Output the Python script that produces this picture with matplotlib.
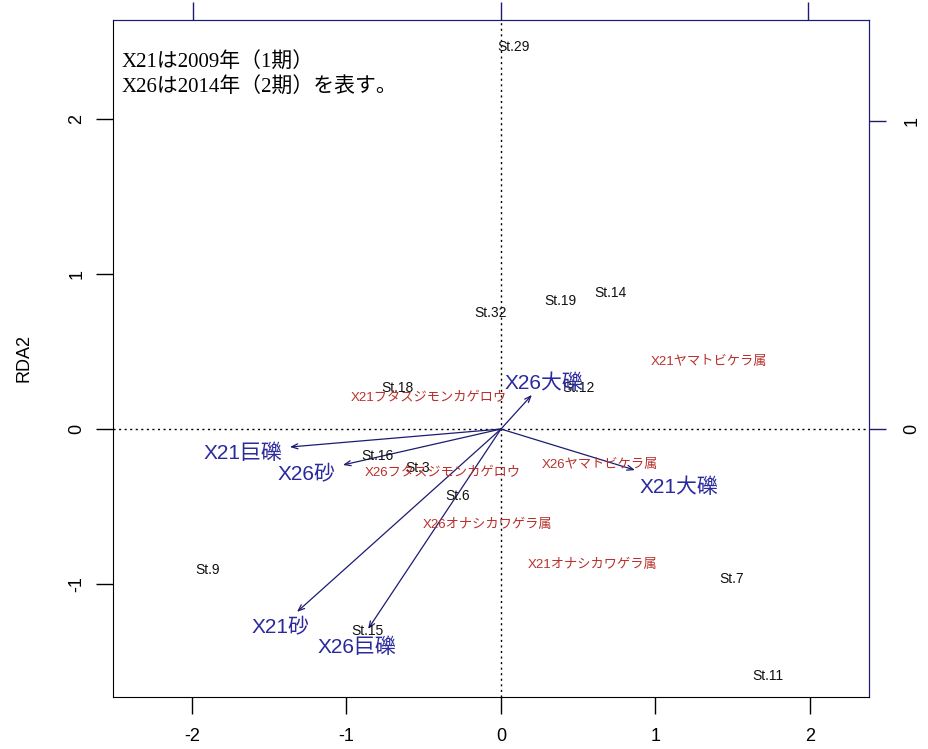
import matplotlib
matplotlib.use("Agg")
import matplotlib.pyplot as plt

# ---------------- data (RDA triplot, scaling) ----------------
site_names = ["St.29", "St.32", "St.19", "St.14", "St.12", "St.18", "St.16", "St.3",
              "St.6", "St.9", "St.15", "St.7", "St.11"]
site_x = [0.084, -0.065, 0.382, 0.706, 0.50, -0.673, -0.80, -0.537,
          -0.278, -1.896, -0.867, 1.495, 1.728]
site_y = [2.465, 0.748, 0.826, 0.877, 0.265, 0.265, -0.174, -0.252,
          -0.432, -0.91, -1.303, -0.968, -1.594]

species_names = ["X21フタスジモンカゲロウ", "X26フタスジモンカゲロウ", "X21ヤマトビケラ属",
                 "X26ヤマトビケラ属", "X26オナシカワゲラ属", "X21オナシカワゲラ属"]
species_x = [-0.47, -0.375, 1.346, 0.64, -0.09, 0.59]
species_y = [0.20, -0.284, 0.432, -0.232, -0.62, -0.877]

env_names = ["X21巨礫", "X26砂", "X21砂", "X26巨礫", "X26大礫", "X21大礫"]
env_tip_x = [-1.366, -1.023, -1.32, -0.86, 0.20, 0.867]
env_tip_y = [-0.116, -0.232, -1.18, -1.29, 0.22, -0.265]
env_lab_x = [-1.67, -1.256, -1.424, -0.932, 0.278, 1.152]
env_lab_y = [-0.155, -0.297, -1.284, -1.406, 0.297, -0.374]

x_ticks = [-2, -1, 0, 1, 2]
y_ticks = [-1, 0, 1, 2]
biplot_ticks_top = [-1, 0, 1]
biplot_ticks_right = [0, 1]
biplot_mul = 1.99

note_lines = ["X21は2009年（1期）", "X26は2014年（2期）を表す。"]

# ---------------- styling ----------------
NAVY = "#1c1c72"
BLUE = "#2a2a9c"
RED = "#b8312c"
SANS = ["Liberation Sans", "Noto Sans CJK JP"]
SERIF = ["Liberation Serif", "Noto Sans CJK JP"]

W, H = 929, 749
fig = plt.figure(figsize=(W / 100, H / 100), dpi=100)
L, R, T, B = 113, 869, 20, 697
ax = fig.add_axes([L / W, 1 - B / H, (R - L) / W, (B - T) / H])

ax.set_xlim(-2.511, 2.382)
ax.set_ylim(-1.729, 2.639)

ax.axhline(0, color="black", lw=1, ls=(0, (1.5, 2.5)), zorder=1)
ax.axvline(0, color="black", lw=1, ls=(0, (1.5, 2.5)), zorder=1)

# sites
for n, x, y in zip(site_names, site_x, site_y):
    ax.text(x, y, n, ha="center", va="center", fontsize=10, family=SANS,
            color="#111111", zorder=3)

# species
for n, x, y in zip(species_names, species_x, species_y):
    ax.text(x, y, n, ha="center", va="center", fontsize=9.5, family=SANS,
            color=RED, zorder=3)

# environmental arrows
for n, tx, ty, lx, ly in zip(env_names, env_tip_x, env_tip_y, env_lab_x, env_lab_y):
    ax.annotate("", xy=(tx, ty), xytext=(0, 0),
                arrowprops=dict(arrowstyle="->,head_length=0.45,head_width=0.18",
                                color=NAVY, lw=0.9, shrinkA=0, shrinkB=0), zorder=2)
    ax.text(lx, ly, n, ha="center", va="center", fontsize=15, family=SANS,
            color=BLUE, zorder=4)

# note
note_y = [(B - 63) / (B - T), (B - 88) / (B - T)]
for line, yy in zip(note_lines, note_y):
    ax.text((122 - L) / (R - L), yy, line, transform=ax.transAxes, ha="left",
            va="center", fontsize=15, family=SERIF, color="black")

# main axes
ax.set_xticks(x_ticks)
ax.set_yticks(y_ticks)
ax.set_xticklabels([str(v) for v in x_ticks], family=SANS, fontsize=13)
ax.set_yticklabels([str(v) for v in y_ticks], family=SANS, fontsize=13,
                   rotation=90, va="center")
ax.tick_params(axis="both", direction="out", length=12, width=1, colors="black")
ax.tick_params(axis="x", pad=10.5)
ax.tick_params(axis="y", pad=8)
ax.set_ylabel("RDA2", family=SANS, fontsize=13, labelpad=26)
for s in ["left", "bottom"]:
    ax.spines[s].set_color("black")
for s in ["top", "right"]:
    ax.spines[s].set_color(NAVY)

# biplot axes (top & right)
top = ax.secondary_xaxis("top", functions=(lambda v: v / biplot_mul, lambda v: v * biplot_mul))
top.set_xticks(biplot_ticks_top)
top.set_xticklabels([""] * len(biplot_ticks_top))
top.tick_params(direction="out", length=13, width=1, color=NAVY)
top.spines["top"].set_color(NAVY)

right = ax.secondary_yaxis("right", functions=(lambda v: v / biplot_mul, lambda v: v * biplot_mul))
right.set_yticks(biplot_ticks_right)
right.set_yticklabels([str(v) for v in biplot_ticks_right], family=SANS, fontsize=13,
                      rotation=90, va="center")
right.tick_params(direction="out", length=12, width=1, color=NAVY, pad=13)
right.spines["right"].set_color(NAVY)

fig.savefig("out.png", dpi=100, facecolor="white")
